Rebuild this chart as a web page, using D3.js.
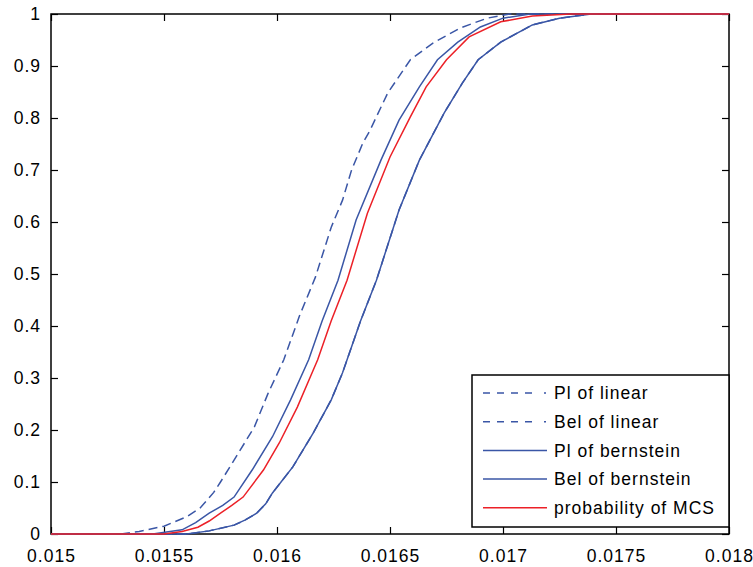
<!DOCTYPE html>
<meta charset="utf-8">
<script src="https://d3js.org/d3.v7.min.js"></script>
<style>
  body { margin: 0; background: #fff; }
  text { font-family: "Liberation Sans", Arial, sans-serif; font-size: 17.5px; letter-spacing: 1px; fill: #000; }
</style>
<div id="chart"></div>

<script>

// tick values
var xTicks = [0.015, 0.0155, 0.016, 0.0165, 0.017, 0.0175, 0.018];
var yTicks = [0, 0.1, 0.2, 0.3, 0.4, 0.5, 0.6, 0.7, 0.8, 0.9, 1];

// curves, [x, probability]
var plLinear = [
  [0.0150, 0], [0.01531, 0], [0.01539, 0.005], [0.01550, 0.015], [0.01560, 0.033],
  [0.01566, 0.05], [0.01572, 0.08], [0.01575, 0.10], [0.01581, 0.142], [0.01590, 0.206],
  [0.01596, 0.27], [0.01603, 0.335], [0.01610, 0.42], [0.01617, 0.494], [0.01624, 0.59],
  [0.01629, 0.642], [0.01633, 0.70], [0.01638, 0.752], [0.01641, 0.775], [0.01649, 0.848],
  [0.01659, 0.912], [0.01669, 0.944], [0.01681, 0.973], [0.01693, 0.992], [0.01703, 1], [0.018, 1]
];

var belLinear = [
  [0.015, 0], [0.01560, 0], [0.01570, 0.006], [0.01581, 0.017], [0.01586, 0.027],
  [0.01591, 0.04], [0.01595, 0.058], [0.01598, 0.079], [0.01607, 0.129], [0.01616, 0.194],
  [0.01624, 0.258], [0.01629, 0.31], [0.01631, 0.335], [0.01637, 0.41], [0.01644, 0.488],
  [0.01654, 0.623], [0.01663, 0.719], [0.01674, 0.81], [0.01682, 0.867], [0.01689, 0.912],
  [0.01699, 0.946], [0.01713, 0.979], [0.01725, 0.992], [0.01739, 1], [0.018, 1]
];

var plBernstein = [
  [0.015, 0], [0.01545, 0], [0.01558, 0.008], [0.01564, 0.022], [0.01570, 0.04],
  [0.01576, 0.055], [0.01581, 0.071], [0.01589, 0.123], [0.01598, 0.187], [0.01606, 0.258],
  [0.01614, 0.335], [0.01620, 0.41], [0.01627, 0.488], [0.01635, 0.604], [0.01646, 0.719],
  [0.01654, 0.796], [0.01663, 0.86], [0.01671, 0.912], [0.01680, 0.946], [0.01690, 0.975],
  [0.01700, 0.992], [0.01712, 1], [0.018, 1]
];

var belBernstein = [
  [0.015, 0], [0.01560, 0], [0.01570, 0.006], [0.01581, 0.017], [0.01586, 0.027],
  [0.01591, 0.04], [0.01595, 0.058], [0.01598, 0.079], [0.01607, 0.129], [0.01616, 0.194],
  [0.01624, 0.258], [0.01629, 0.31], [0.01631, 0.335], [0.01637, 0.41], [0.01644, 0.488],
  [0.01654, 0.623], [0.01663, 0.719], [0.01674, 0.81], [0.01682, 0.867], [0.01689, 0.912],
  [0.01699, 0.946], [0.01713, 0.979], [0.01725, 0.992], [0.01739, 1], [0.018, 1]
];

var mcs = [
  [0.015, 0], [0.01550, 0], [0.01558, 0.005], [0.01565, 0.013], [0.01570, 0.025],
  [0.01575, 0.04], [0.01580, 0.055], [0.01585, 0.071], [0.01594, 0.123], [0.01601, 0.175],
  [0.01609, 0.244], [0.01616, 0.315], [0.01618, 0.335], [0.01624, 0.41], [0.01631, 0.488],
  [0.01640, 0.617], [0.01650, 0.725], [0.01659, 0.802], [0.01666, 0.86], [0.01675, 0.912],
  [0.01685, 0.956], [0.01699, 0.985], [0.01713, 0.996], [0.01730, 1], [0.018, 1]
];

var seriesNames = ["Pl of linear", "Bel of linear", "Pl of bernstein", "Bel of bernstein", "probability of MCS"];

var blue = "#3a56a6", red = "#ec2027";
var series = [
  {name: seriesNames[0], data: plLinear, color: blue, dash: "9,5"},
  {name: seriesNames[1], data: belLinear, color: blue, dash: "9,5"},
  {name: seriesNames[2], data: plBernstein, color: blue, dash: null},
  {name: seriesNames[3], data: belBernstein, color: blue, dash: null},
  {name: seriesNames[4], data: mcs, color: red, dash: null}
];

var margin = {top: 14, right: 24, bottom: 33, left: 51},
    width = 753 - margin.left - margin.right,
    height = 567 - margin.top - margin.bottom;

var svg = d3.select("#chart")
  .append("svg")
    .attr("width", 753)
    .attr("height", 567)
  .append("g")
    .attr("transform", "translate(" + margin.left + "," + margin.top + ")");

var x = d3.scaleLinear().domain([0.015, 0.018]).range([0, width]);
var y = d3.scaleLinear().domain([0, 1]).range([height, 0]);

// axes, ticks pointing inward like matlab
svg.append("g")
  .attr("transform", "translate(0," + height + ")")
  .call(d3.axisBottom(x).tickValues(xTicks).tickSize(-7).tickPadding(16).tickFormat(d3.format("")))
  .call(function(g) { g.select(".domain").remove(); });

svg.append("g")
  .call(d3.axisLeft(y).tickValues(yTicks).tickSize(-7).tickPadding(10).tickFormat(d3.format("")))
  .call(function(g) { g.select(".domain").remove(); });

svg.append("g")
  .call(d3.axisTop(x).tickValues(xTicks).tickSize(-7).tickFormat(""))
  .call(function(g) { g.select(".domain").remove(); });

svg.append("g")
  .attr("transform", "translate(" + width + ",0)")
  .call(d3.axisRight(y).tickValues(yTicks).tickSize(-7).tickFormat(""))
  .call(function(g) { g.select(".domain").remove(); });

svg.selectAll(".tick line").attr("stroke", "#000").attr("stroke-width", 1.2);
svg.selectAll(".tick text").style("font-size", "17.5px").attr("fill", "#000");

svg.append("rect")
  .attr("width", width)
  .attr("height", height)
  .attr("fill", "none")
  .attr("stroke", "#000")
  .attr("stroke-width", 1.5);

var line = d3.line()
  .x(function(d) { return x(d[0]); })
  .y(function(d) { return y(d[1]); });

svg.selectAll(".curve")
  .data(series)
  .enter()
  .append("path")
    .attr("class", "curve")
    .attr("fill", "none")
    .attr("stroke", function(d) { return d.color; })
    .attr("stroke-width", 1.5)
    .attr("stroke-dasharray", function(d) { return d.dash; })
    .attr("d", function(d) { return line(d.data); });

// legend
var lx = 472 - margin.left, ly = 375 - margin.top, lw = width - lx, lh = 152;
var legend = svg.append("g").attr("transform", "translate(" + lx + "," + ly + ")");

legend.append("rect")
  .attr("width", lw)
  .attr("height", lh)
  .attr("fill", "#fff")
  .attr("stroke", "#000")
  .attr("stroke-width", 1.5);

var rows = legend.selectAll(".row")
  .data(series)
  .enter()
  .append("g")
    .attr("transform", function(d, i) { return "translate(0," + (18 + i * 28.7) + ")"; });

rows.append("line")
  .attr("x1", 11)
  .attr("x2", 75)
  .attr("stroke", function(d) { return d.color; })
  .attr("stroke-width", 1.5)
  .attr("stroke-dasharray", function(d) { return d.dash ? "7,7,7,7,7,7,7,12,2" : null; });

rows.append("text")
  .attr("x", 82)
  .attr("dy", "0.35em")
  .text(function(d) { return d.name; });

</script>
